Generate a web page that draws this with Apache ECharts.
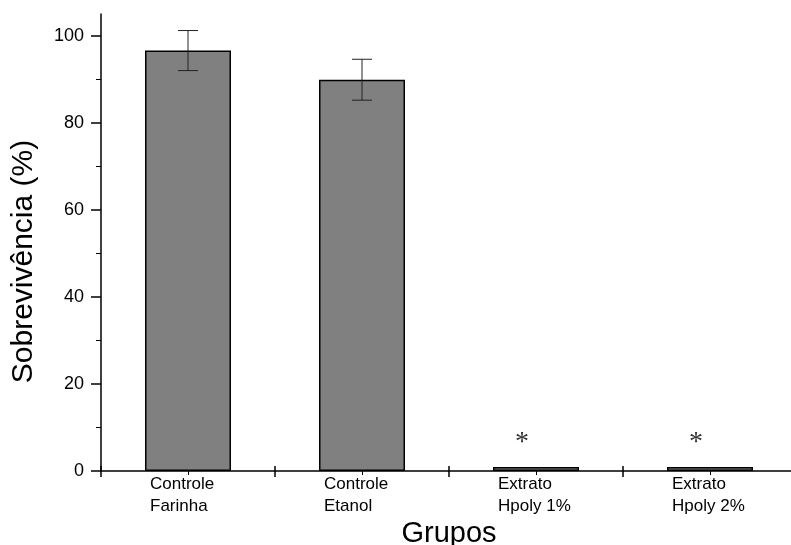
<!DOCTYPE html>
<html>
<head>
<meta charset="utf-8">
<script src="https://cdn.jsdelivr.net/npm/echarts@6/dist/echarts.min.js"></script>
<style>
  html, body { margin: 0; padding: 0; background: #fff; }
  #chart { width: 791px; height: 545px; }
</style>
</head>
<body>
<div id="chart"></div>
<script>
// data
var categories = ['Controle\nFarinha', 'Controle\nEtanol', 'Extrato\nHpoly 1%', 'Extrato\nHpoly 2%'];
var survival = [96.6, 89.9, 0.9, 0.9];
var errors = [4.6, 4.7, 0, 0];
var marks = ['', '', '*', '*'];
var yTicks = [0, 20, 40, 60, 80, 100];
var yMinorTicks = [10, 30, 50, 70, 90];

var font = 'Liberation Sans, Arial, sans-serif';
var chart = echarts.init(document.getElementById('chart'));

var barData = survival.map(function (v, i) {
  return {
    value: v,
    label: {
      show: marks[i] !== '',
      formatter: marks[i],
      position: 'top',
      distance: 2,
      offset: [-14, -8],
      fontFamily: 'Liberation Serif, Times New Roman, serif',
      fontSize: 28,
      color: '#333'
    }
  };
});

var errData = survival.map(function (v, i) { return [i, v, errors[i]]; });

function renderErr(params, api) {
  var x = api.value(0), v = api.value(1), e = api.value(2);
  if (!e) return;
  var top = api.coord([x, v + e]);
  var bot = api.coord([x, v - e]);
  var w = 10;
  var st = { stroke: '#222', lineWidth: 1 };
  return {
    type: 'group',
    children: [
      { type: 'line', shape: { x1: top[0], y1: top[1], x2: bot[0], y2: bot[1] }, style: st },
      { type: 'line', shape: { x1: top[0] - w, y1: top[1], x2: top[0] + w, y2: top[1] }, style: st },
      { type: 'line', shape: { x1: bot[0] - w, y1: bot[1], x2: bot[0] + w, y2: bot[1] }, style: st }
    ]
  };
}

var option = {
  animation: false,
  grid: { left: 101, top: 14, bottom: 74, width: 696, outerBoundsMode: 'none' },
  xAxis: [{
    type: 'category',
    data: categories,
    name: 'Grupos',
    nameLocation: 'middle',
    nameGap: 45,
    nameTextStyle: { fontFamily: font, fontSize: 29, color: '#000' },
    axisLine: { lineStyle: { color: '#000', width: 1.5 } },
    axisTick: { show: true, length: 6, lineStyle: { color: '#000', width: 1.5 } },
    axisLabel: {
      margin: 2,
      color: '#000',
      formatter: function (v) {
        return v.split('\n').map(function (s) { return '{a|' + s + '}'; }).join('\n');
      },
      rich: { a: { width: 76, align: 'left', fontFamily: font, fontSize: 17, lineHeight: 22, color: '#000' } }
    }
  }, {
    type: 'category',
    data: categories,
    position: 'bottom',
    axisLine: { show: false },
    axisTick: { show: true, inside: true, length: 5, lineStyle: { color: '#000', width: 1.5 } },
    axisLabel: { show: false }
  }, {
    type: 'category',
    data: categories,
    position: 'bottom',
    axisLine: { show: false },
    axisTick: { show: true, alignWithLabel: true, length: 4, lineStyle: { color: '#000', width: 1 } },
    axisLabel: { show: false }
  }],
  yAxis: [{
    type: 'value',
    min: 0,
    max: 105,
    interval: 20,
    name: 'Sobrevivência (%)',
    nameLocation: 'middle',
    nameGap: 62,
    nameTextStyle: { fontFamily: font, fontSize: 30, color: '#000', padding: [0, 38, 0, 0] },
    splitLine: { show: false },
    axisLine: { show: true, lineStyle: { color: '#000', width: 1.5 } },
    axisTick: { show: true, length: 10, customValues: yTicks, lineStyle: { color: '#000', width: 1.5 } },
    axisLabel: { margin: 17, customValues: yTicks, fontFamily: font, fontSize: 18, color: '#000' }
  }, {
    type: 'value',
    min: 0,
    max: 105,
    position: 'left',
    splitLine: { show: false },
    axisLine: { show: false },
    axisTick: { show: true, length: 5, customValues: yMinorTicks, lineStyle: { color: '#000', width: 1 } },
    axisLabel: { show: false }
  }],
  series: [{
    type: 'bar',
    xAxisIndex: 0,
    yAxisIndex: 0,
    data: barData,
    barWidth: 86,
    itemStyle: { color: '#808080', borderColor: '#000', borderWidth: 1.5 }
  }, {
    type: 'custom',
    xAxisIndex: 0,
    yAxisIndex: 0,
    renderItem: renderErr,
    data: errData,
    z: 5
  }]
};

chart.setOption(option);
</script>
</body>
</html>
